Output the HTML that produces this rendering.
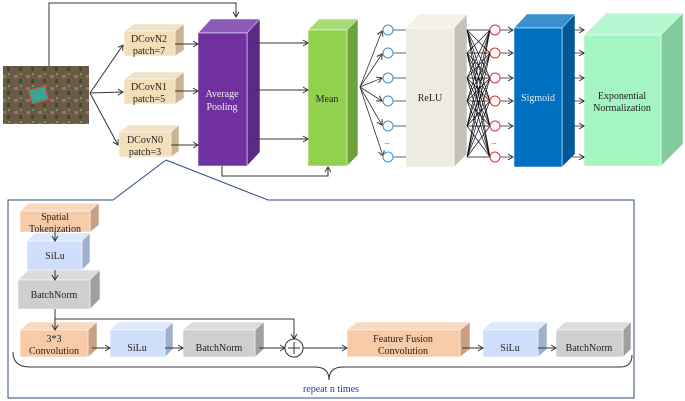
<!DOCTYPE html>
<html><head><meta charset="utf-8"><style>
body{margin:0;background:#fff}
svg{display:block;font-family:"Liberation Serif",serif}
text{font-size:10px;fill:#222;text-anchor:middle}
</style></head><body>
<svg width="685" height="401" viewBox="0 0 685 401" xmlns="http://www.w3.org/2000/svg">
<defs>
<marker id="a" markerWidth="8" markerHeight="8" refX="6" refY="4" orient="auto" markerUnits="userSpaceOnUse">
<path d="M1,1 L6,4 L1,7" fill="none" stroke="#333" stroke-width="1"/></marker>
<pattern id="img" width="12" height="12" patternUnits="userSpaceOnUse">
<rect width="12" height="12" fill="#6b5a45"/><rect x="2" y="3" width="4" height="3" fill="#8d7a5e"/><rect x="7" y="7" width="3" height="4" fill="#3e4a2e"/><rect x="8" y="1" width="2" height="2" fill="#6f9a4a"/></pattern>
</defs>
<g stroke="#333" stroke-width="1" fill="none">
<rect x="3" y="66" width="86" height="58" fill="url(#img)" stroke="none"/>
<rect x="30" y="88" width="17" height="14" fill="#3aa58f" stroke="#d44" transform="rotate(-15 38 95)"/>
<path d="M49,66 V3 H236 V17" marker-end="url(#a)"/>
<path d="M90,93 L123,45" marker-end="url(#a)"/>
<path d="M90,93 L123,92" marker-end="url(#a)"/>
<path d="M90,93 L118,145" marker-end="url(#a)"/>
</g>
<g stroke="#fff" stroke-width="0.5">
<polygon points="124,31 134,24 184,24 175,31" fill="#f0e2c4"/><polygon points="175,31 184,24 184,50 175,56" fill="#c9b48e"/><rect x="124" y="31" width="51" height="25" fill="#f3dfb9"/>
<polygon points="124,79 134,72 184,72 175,79" fill="#f0e2c4"/><polygon points="175,79 184,72 184,98 175,104" fill="#c9b48e"/><rect x="124" y="79" width="51" height="25" fill="#f3dfb9"/>
<polygon points="119,132 129,125 179,125 171,132" fill="#f0e2c4"/><polygon points="171,132 179,125 179,151 171,157" fill="#c9b48e"/><rect x="119" y="132" width="52" height="25" fill="#f3dfb9"/>
<polygon points="198,33 211,19 260,19 247,33" fill="#8a5cb8"/><polygon points="247,33 260,19 260,152 247,166" fill="#5a2a86"/><rect x="198" y="33" width="49" height="133" fill="#7030a0"/>
<polygon points="308,30 319,19 358,19 347,30" fill="#a9dc78"/><polygon points="347,30 358,19 358,155 347,166" fill="#6ea33a"/><rect x="308" y="30" width="39" height="136" fill="#92d050"/>
<polygon points="406,28 419,14 467,14 454,28" fill="#f3f1e8"/><polygon points="454,28 467,14 467,154 454,167" fill="#c3c2b8"/><rect x="406" y="28" width="48" height="139" fill="#eeece1"/>
<polygon points="514,28 527,14 575,14 562,28" fill="#3a8fd0"/><polygon points="562,28 575,14 575,154 562,167" fill="#005a9a"/><rect x="514" y="28" width="48" height="139" fill="#0070c0"/>
<polygon points="584,35 606,13 683,13 661,35" fill="#b8f8d0"/><polygon points="661,35 683,13 683,144 661,166" fill="#80cc9c"/><rect x="584" y="35" width="77" height="131" fill="#a5f5c2"/>
</g>
<g stroke="#333" stroke-width="1" fill="none">
<path d="M175,44 H198" marker-end="url(#a)"/><path d="M175,91 H198" marker-end="url(#a)"/><path d="M171,145 H198" marker-end="url(#a)"/>
<path d="M255,43 H308" marker-end="url(#a)"/><path d="M255,90 H308" marker-end="url(#a)"/><path d="M255,139 H308" marker-end="url(#a)"/>
<path d="M222,166 V176 H328 V167" marker-end="url(#a)"/>
</g>
<g stroke="#333" stroke-width="0.8" fill="none">
<path d="M360,87 L382,31" marker-end="url(#a)"/><path d="M360,87 L382,54" marker-end="url(#a)"/><path d="M360,87 L382,78" marker-end="url(#a)"/><path d="M360,87 L382,101" marker-end="url(#a)"/><path d="M360,87 L382,125" marker-end="url(#a)"/><path d="M360,87 L383,156" marker-end="url(#a)"/>
<path d="M393,30H406 M393,53H406 M393,78H406 M393,101H406 M393,126H406 M393,157H406"/>
<path d="M500,30H513" marker-end="url(#a)"/><path d="M500,53H513" marker-end="url(#a)"/><path d="M500,78H513" marker-end="url(#a)"/><path d="M500,101H513" marker-end="url(#a)"/><path d="M500,126H513" marker-end="url(#a)"/><path d="M500,157H513" marker-end="url(#a)"/>
<path d="M572,30H584" marker-end="url(#a)"/><path d="M572,53H584" marker-end="url(#a)"/><path d="M572,78H584" marker-end="url(#a)"/><path d="M572,101H584" marker-end="url(#a)"/><path d="M572,126H584" marker-end="url(#a)"/><path d="M572,157H584" marker-end="url(#a)"/>
<g stroke-width="0.7" stroke="#111">
<path d="M467,30L490,53M467,30L490,78M467,30L490,101M467,30L490,126M467,30L490,157M467,53L490,30M467,53L490,78M467,53L490,101M467,53L490,126M467,53L490,157M467,78L490,30M467,78L490,53M467,78L490,101M467,78L490,126M467,78L490,157M467,101L490,30M467,101L490,53M467,101L490,78M467,101L490,126M467,101L490,157M467,126L490,30M467,126L490,53M467,126L490,78M467,126L490,101M467,126L490,157M467,157L490,30M467,157L490,53M467,157L490,78M467,157L490,101M467,157L490,126M467,30H490M467,53H490M467,78H490M467,101H490M467,126H490M467,157H490"/>
</g>
</g>
<g fill="#fff" stroke="#3a8fd8" stroke-width="1">
<circle cx="388" cy="30" r="5"/><circle cx="388" cy="53" r="5"/><circle cx="388" cy="78" r="5"/><circle cx="388" cy="101" r="5"/><circle cx="388" cy="126" r="5"/><circle cx="388" cy="157" r="5"/>
</g>
<g fill="#fff" stroke="#e03030" stroke-width="1">
<circle cx="495" cy="30" r="5"/><circle cx="495" cy="53" r="5"/><circle cx="495" cy="78" r="5"/><circle cx="495" cy="101" r="5"/><circle cx="495" cy="126" r="5"/><circle cx="495" cy="157" r="5"/>
</g>
<text x="387" y="144" style="font-size:7px">...</text><text x="494" y="144" style="font-size:7px">...</text>
<text x="149" y="42">DCovN2</text><text x="149" y="54">patch=7</text>
<text x="149" y="90">DCovN1</text><text x="149" y="102">patch=5</text>
<text x="145" y="143">DCovN0</text><text x="145" y="155">patch=3</text>
<text x="222" y="97" style="fill:#eee">Average</text><text x="222" y="110" style="fill:#eee">Pooling</text>
<text x="327" y="102">Mean</text>
<text x="430" y="101">ReLU</text>
<text x="538" y="101" style="fill:#e8eef8">Sigmoid</text>
<text x="622" y="99">Exponential</text><text x="622" y="111">Normalization</text>
<path d="M166,160 L113,200 H8 V398 H634 V200 H268 L166,160" fill="none" stroke="#2e4a8a" stroke-width="1"/>
<g stroke="#fff" stroke-width="0.5">
<polygon points="20,211 29,203 99,203 90,211" fill="#f8d8bf"/><polygon points="90,211 99,203 99,225 90,232" fill="#c9a083"/><rect x="20" y="211" width="70" height="21" fill="#f8cba8"/>
<polygon points="27,241 35,233 90,233 82,241" fill="#dde8fc"/><polygon points="82,241 90,233 90,262 82,270" fill="#9fb0cc"/><rect x="27" y="241" width="55" height="29" fill="#cfdffb"/>
<polygon points="18,280 28,270 100,270 90,280" fill="#dcdcdc"/><polygon points="90,280 100,270 100,299 90,309" fill="#a0a0a0"/><rect x="18" y="280" width="72" height="29" fill="#cfcfcf"/>
<polygon points="20,330 29,322 97,322 88,330" fill="#f8d8bf"/><polygon points="88,330 97,322 97,349 88,357" fill="#c9a083"/><rect x="20" y="330" width="68" height="27" fill="#f8cba8"/>
<polygon points="110,330 118,322 173,322 165,330" fill="#dde8fc"/><polygon points="165,330 173,322 173,349 165,357" fill="#9fb0cc"/><rect x="110" y="330" width="55" height="27" fill="#cfdffb"/>
<polygon points="183,330 192,322 264,322 255,330" fill="#dcdcdc"/><polygon points="255,330 264,322 264,349 255,357" fill="#a0a0a0"/><rect x="183" y="330" width="72" height="27" fill="#cfcfcf"/>
<polygon points="347,330 357,322 470,322 460,330" fill="#f8d8bf"/><polygon points="460,330 470,322 470,349 460,357" fill="#c9a083"/><rect x="347" y="330" width="113" height="27" fill="#f8cba8"/>
<polygon points="483,330 491,322 547,322 538,330" fill="#dde8fc"/><polygon points="538,330 547,322 547,349 538,357" fill="#9fb0cc"/><rect x="483" y="330" width="55" height="27" fill="#cfdffb"/>
<polygon points="556,330 565,322 631,322 623,330" fill="#dcdcdc"/><polygon points="623,330 631,322 631,349 623,357" fill="#a0a0a0"/><rect x="556" y="330" width="67" height="27" fill="#cfcfcf"/>
</g>
<g stroke="#333" stroke-width="1" fill="none">
<path d="M55,232 V241" marker-end="url(#a)"/><path d="M55,270 V280" marker-end="url(#a)"/><path d="M55,309 V330" marker-end="url(#a)"/>
<path d="M55,319 H294 V339" marker-end="url(#a)"/>
<path d="M92,348 H110" marker-end="url(#a)"/><path d="M165,348 H183" marker-end="url(#a)"/><path d="M259,348 H285" marker-end="url(#a)"/>
<circle cx="294" cy="348" r="9" fill="#fff"/><path d="M288,348H300M294,342V354"/>
<path d="M303,348 H347" marker-end="url(#a)"/><path d="M462,348 H483" marker-end="url(#a)"/><path d="M538,348 H556" marker-end="url(#a)"/>
<path d="M13,352 Q13,367 30,367 H315 Q329,367 329,380 Q329,367 343,367 H620 Q632,367 632,355"/>
</g>
<text x="55" y="220">Spatial</text><text x="55" y="232">Tokenization</text>
<text x="55" y="259">SiLu</text><text x="54" y="298">BatchNorm</text>
<text x="54" y="342">3*3</text><text x="54" y="354">Convolution</text>
<text x="137" y="351">SiLu</text><text x="219" y="351">BatchNorm</text>
<text x="403" y="342">Feature Fusion</text><text x="403" y="354">Convolution</text>
<text x="510" y="351">SiLu</text><text x="589" y="351">BatchNorm</text>
<text x="331" y="392" style="fill:#2e3a9a">repeat n times</text>
</svg>
</body></html>
